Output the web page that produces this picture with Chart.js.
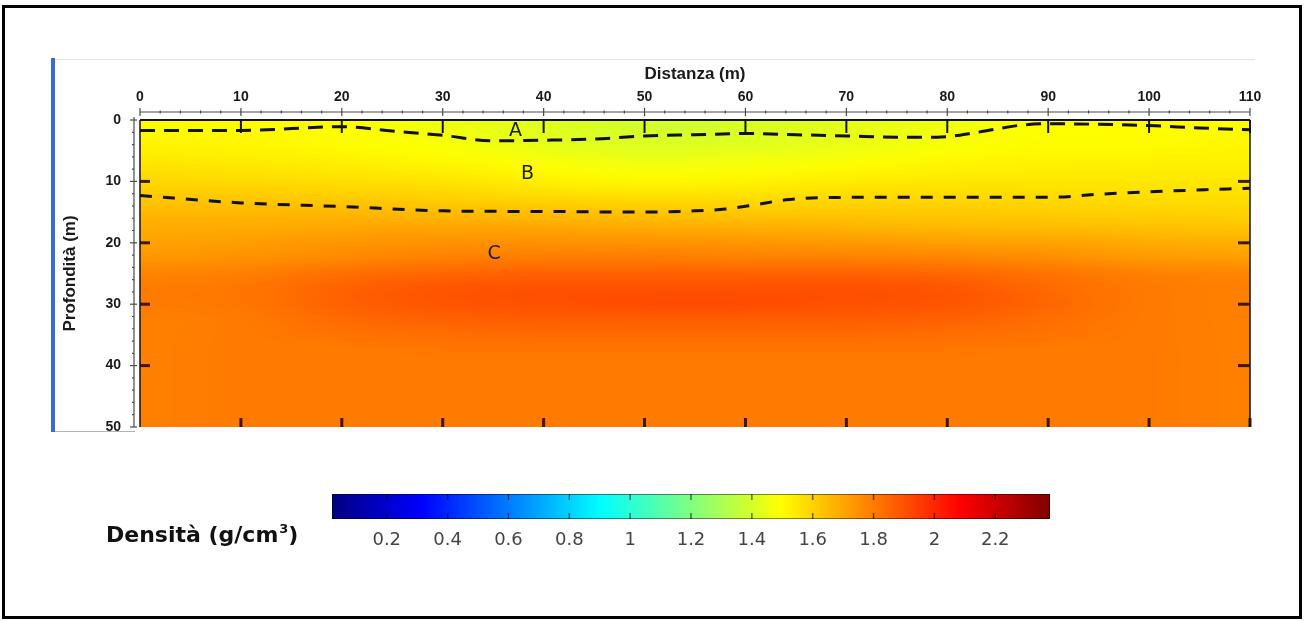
<!DOCTYPE html>
<html lang="it">
<head>
<meta charset="utf-8">
<title>Sezione di densità</title>
<script src="https://cdn.jsdelivr.net/npm/chart.js@4.4.1/dist/chart.umd.min.js"></script>
<style>
  html, body { margin: 0; padding: 0; background: #fff; }
  body { width: 1304px; height: 621px; position: relative; overflow: hidden; }
  #frame { position: absolute; left: 2px; top: 5px; width: 1294px; height: 608px; border: 3px solid #000; }
  #blueRule { position: absolute; left: 51px; top: 58px; width: 4px; height: 374px; background: #3a6cce; }
  #topRule { position: absolute; left: 55px; top: 59px; width: 1200px; height: 1px; background: #e2e2e2; }
  #bottomRule { position: absolute; left: 55px; top: 431px; width: 80px; height: 1px; background: #b4b4b4; }
  #main { position: absolute; left: 0; top: 0; }
  #cb { position: absolute; left: 0; top: 470px; }
  #cbTitle { position: absolute; left: 106px; top: 522px; font: bold 22px "DejaVu Sans", sans-serif; line-height: 26px; color: #111; white-space: nowrap; }
  #cbTitle sup { font-size: 13px; position: relative; top: -9px; vertical-align: baseline; margin-left: 1px; }
</style>
</head>
<body>
<div id="frame"></div>
<div id="blueRule"></div>
<div id="topRule"></div>
<div id="bottomRule"></div>
<canvas id="main" width="1304" height="621"></canvas>
<canvas id="cb" width="1304" height="100"></canvas>
<div id="cbTitle">Densità (g/cm<sup>3</sup>)</div>
<script>
// Axis tick labels
const distanceTicks = [0, 10, 20, 30, 40, 50, 60, 70, 80, 90, 100, 110];
const depthTicks = [0, 10, 20, 30, 40, 50];
const colorbarTicks = [0.2, 0.4, 0.6, 0.8, 1, 1.2, 1.4, 1.6, 1.8, 2, 2.2];

// Density colour scale limits (g/cm3)
const densityMin = 0.02;
const densityMax = 2.38;

// Grid nodes of the density section
const distanceLevels = [0, 10, 20, 30, 40, 50, 60, 70, 80, 90, 100, 110];
const depthLevels = [0, 2.5, 5, 7.5, 10, 12.5, 15, 17.5, 20, 22.5, 25, 27.5, 30, 32.5, 35, 37.5, 40, 42.5, 45, 47.5, 50];

// Density (g/cm3), one row per depth level, one column per distance level
const densityGrid = [
  [1.50, 1.50, 1.49, 1.46, 1.42, 1.39, 1.40, 1.43, 1.46, 1.49, 1.50, 1.50],
  [1.51, 1.51, 1.50, 1.47, 1.43, 1.40, 1.41, 1.44, 1.47, 1.50, 1.50, 1.51],
  [1.53, 1.52, 1.51, 1.49, 1.45, 1.43, 1.44, 1.46, 1.49, 1.51, 1.51, 1.52],
  [1.56, 1.55, 1.54, 1.52, 1.49, 1.47, 1.48, 1.50, 1.52, 1.53, 1.53, 1.53],
  [1.59, 1.58, 1.57, 1.56, 1.53, 1.51, 1.52, 1.54, 1.55, 1.55, 1.55, 1.55],
  [1.62, 1.62, 1.61, 1.60, 1.58, 1.57, 1.57, 1.58, 1.58, 1.58, 1.57, 1.57],
  [1.66, 1.66, 1.66, 1.65, 1.64, 1.63, 1.62, 1.62, 1.62, 1.61, 1.60, 1.60],
  [1.69, 1.69, 1.70, 1.70, 1.70, 1.69, 1.68, 1.67, 1.66, 1.65, 1.64, 1.63],
  [1.71, 1.72, 1.74, 1.75, 1.75, 1.75, 1.74, 1.73, 1.72, 1.71, 1.69, 1.68],
  [1.74, 1.75, 1.77, 1.79, 1.80, 1.80, 1.79, 1.79, 1.78, 1.76, 1.73, 1.72],
  [1.78, 1.79, 1.83, 1.85, 1.86, 1.86, 1.86, 1.86, 1.85, 1.82, 1.79, 1.78],
  [1.80, 1.81, 1.86, 1.89, 1.90, 1.90, 1.90, 1.90, 1.89, 1.84, 1.80, 1.79],
  [1.80, 1.81, 1.86, 1.89, 1.90, 1.91, 1.91, 1.90, 1.89, 1.85, 1.80, 1.79],
  [1.79, 1.80, 1.84, 1.86, 1.87, 1.87, 1.87, 1.87, 1.86, 1.83, 1.80, 1.79],
  [1.79, 1.80, 1.82, 1.83, 1.84, 1.84, 1.84, 1.84, 1.83, 1.82, 1.80, 1.79],
  [1.79, 1.80, 1.80, 1.81, 1.81, 1.81, 1.81, 1.81, 1.81, 1.80, 1.80, 1.79],
  [1.79, 1.80, 1.80, 1.80, 1.80, 1.80, 1.80, 1.80, 1.80, 1.80, 1.80, 1.79],
  [1.79, 1.80, 1.80, 1.80, 1.80, 1.80, 1.80, 1.80, 1.80, 1.80, 1.80, 1.79],
  [1.79, 1.80, 1.80, 1.80, 1.80, 1.80, 1.80, 1.80, 1.80, 1.80, 1.80, 1.79],
  [1.79, 1.80, 1.80, 1.80, 1.80, 1.80, 1.80, 1.80, 1.80, 1.80, 1.80, 1.79],
  [1.79, 1.80, 1.80, 1.80, 1.80, 1.80, 1.80, 1.80, 1.80, 1.80, 1.80, 1.79]
];

// Interpreted boundaries between layers A/B and B/C (distance m, depth m)
const boundaryAB_x = [0, 10, 20, 25, 30, 35, 40, 45, 50, 55, 60, 65, 70, 75, 79, 83, 87, 90, 95, 100, 105, 110];
const boundaryAB_depth = [1.7, 1.7, 1.1, 1.8, 2.5, 3.4, 3.3, 3.1, 2.6, 2.4, 2.2, 2.4, 2.6, 2.8, 2.8, 2.0, 0.9, 0.6, 0.7, 0.9, 1.3, 1.6];
const boundaryBC_x = [0, 10, 20, 30, 40, 50, 55, 58, 61, 64, 70, 80, 90, 95, 100, 110];
const boundaryBC_depth = [12.3, 13.5, 14.1, 14.8, 14.9, 15.0, 14.8, 14.5, 13.8, 13.0, 12.6, 12.6, 12.6, 12.1, 11.7, 11.1];

// Layer names and their anchor points (distance m, depth m)
const zoneNames = ['A', 'B', 'C'];
const zoneX = [37.2, 38.4, 35.1];
const zoneDepth = [1.8, 8.8, 21.8];

// Jet colour map over the density range
function jet(v) {
  const t = Math.min(1, Math.max(0, (v - densityMin) / (densityMax - densityMin)));
  const c = k => Math.round(255 * Math.min(1, Math.max(0, k)));
  return [c(1.5 - Math.abs(4 * t - 3)), c(1.5 - Math.abs(4 * t - 2)), c(1.5 - Math.abs(4 * t - 1))];
}

const heatmapPlugin = {
  id: 'densityHeatmap',
  beforeDatasetsDraw(chart) {
    const { ctx, chartArea: a, scales: { x, y } } = chart;
    const nx = distanceLevels.length, ny = depthLevels.length;
    const off = document.createElement('canvas');
    off.width = nx; off.height = ny;
    const octx = off.getContext('2d');
    const img = octx.createImageData(nx, ny);
    for (let j = 0; j < ny; j++) {
      for (let i = 0; i < nx; i++) {
        const [r, g, b] = jet(densityGrid[j][i]);
        const k = (j * nx + i) * 4;
        img.data[k] = r; img.data[k + 1] = g; img.data[k + 2] = b; img.data[k + 3] = 255;
      }
    }
    octx.putImageData(img, 0, 0);
    const dx = distanceLevels[1] - distanceLevels[0];
    const dy = depthLevels[1] - depthLevels[0];
    const x0 = x.getPixelForValue(distanceLevels[0] - dx / 2);
    const x1 = x.getPixelForValue(distanceLevels[nx - 1] + dx / 2);
    const y0 = y.getPixelForValue(depthLevels[0] - dy / 2);
    const y1 = y.getPixelForValue(depthLevels[ny - 1] + dy / 2);
    ctx.save();
    ctx.beginPath();
    ctx.rect(a.left, a.top, a.right - a.left, a.bottom - a.top);
    ctx.clip();
    ctx.imageSmoothingEnabled = true;
    ctx.imageSmoothingQuality = 'high';
    ctx.drawImage(off, x0, y0, x1 - x0, y1 - y0);
    ctx.restore();
  }
};

function seg(ctx, xa, ya, xb, yb) {
  ctx.beginPath(); ctx.moveTo(xa, ya); ctx.lineTo(xb, yb); ctx.stroke();
}

const framePlugin = {
  id: 'sectionFrame',
  afterDatasetsDraw(chart) {
    const { ctx, chartArea: a, scales: { x, y } } = chart;
    ctx.save();
    // inner tick marks along the bottom edge
    ctx.strokeStyle = 'rgba(40,10,0,0.9)';
    ctx.lineWidth = 3;
    distanceTicks.forEach(v => {
      if (v === distanceTicks[0]) return;
      const px = x.getPixelForValue(v);
      seg(ctx, px, a.bottom, px, a.bottom - 9);
    });
    // inner tick marks along the left and right edges
    depthTicks.forEach(v => {
      if (v === depthTicks[0] || v === depthTicks[depthTicks.length - 1]) return;
      const py = y.getPixelForValue(v);
      seg(ctx, a.left, py, a.left + 10, py);
      seg(ctx, a.right - 12, py, a.right, py);
    });
    // inner tick marks along the top edge
    ctx.strokeStyle = '#151515';
    ctx.lineWidth = 2;
    distanceTicks.forEach(v => {
      if (v === distanceTicks[0]) return;
      const px = x.getPixelForValue(v);
      seg(ctx, px, a.top, px, a.top + 13);
    });
    // section outline
    ctx.strokeStyle = '#111';
    ctx.lineWidth = 2;
    seg(ctx, a.left, a.top, a.right, a.top);
    ctx.lineWidth = 1.5;
    seg(ctx, a.left, a.top, a.left, a.bottom);
    seg(ctx, a.right, a.top, a.right, a.bottom);
    // layer names
    ctx.fillStyle = '#1c1c1c';
    ctx.font = '19px "DejaVu Sans", sans-serif';
    ctx.textAlign = 'center';
    ctx.textBaseline = 'middle';
    zoneNames.forEach((n, i) => {
      ctx.fillText(n, x.getPixelForValue(zoneX[i]), y.getPixelForValue(zoneDepth[i]));
    });
    ctx.restore();
  },
  afterDraw(chart) {
    const { ctx, chartArea: a, scales: { x, y } } = chart;
    ctx.save();
    ctx.strokeStyle = '#4a4a4a';
    ctx.lineWidth = 1.2;
    // distance ruler above the section
    const ry = a.top - 8;
    seg(ctx, a.left, ry, a.right, ry);
    for (let v = 0; v <= 110; v += 2) {
      const px = x.getPixelForValue(v);
      if (v % 10 === 0) seg(ctx, px, ry - 4, px, ry + 4);
      else seg(ctx, px, ry - 1.5, px, ry + 1.5);
    }
    // depth ruler left of the section
    const rx = a.left - 6;
    seg(ctx, rx, a.top - 3, rx, a.bottom);
    for (let v = 0; v <= 50; v += 2) {
      const py = y.getPixelForValue(v);
      if (v % 10 === 0) seg(ctx, rx - 4, py, rx + 3, py);
      else seg(ctx, rx - 2, py, rx, py);
    }
    ctx.restore();
  }
};

const tickFont = { family: 'Liberation Sans', weight: 'bold', size: 14 };
const titleFont = { family: 'Liberation Sans', weight: 'bold', size: 17 };

new Chart(document.getElementById('main'), {
  type: 'line',
  data: {
    datasets: [
      {
        label: 'A/B',
        data: boundaryAB_x.map((v, i) => ({ x: v, y: boundaryAB_depth[i] })),
        borderColor: '#111',
        borderWidth: 3,
        borderDash: [15, 9],
        pointRadius: 0,
        cubicInterpolationMode: 'monotone',
        fill: false
      },
      {
        label: 'B/C',
        data: boundaryBC_x.map((v, i) => ({ x: v, y: boundaryBC_depth[i] })),
        borderColor: '#111',
        borderWidth: 3,
        borderDash: [12, 11],
        pointRadius: 0,
        cubicInterpolationMode: 'monotone',
        fill: false
      }
    ]
  },
  options: {
    responsive: false,
    animation: false,
    devicePixelRatio: 1,
    layout: { padding: { left: 0, top: 0, right: 54, bottom: 194 } },
    plugins: { legend: { display: false }, tooltip: { enabled: false } },
    scales: {
      x: {
        type: 'linear',
        position: 'top',
        min: 0,
        max: 110,
        afterBuildTicks: s => { s.ticks = distanceTicks.map(v => ({ value: v })); },
        afterFit: s => { s.height = 120; },
        grid: { display: false },
        border: { display: false },
        ticks: { padding: 6, font: tickFont, color: '#1a1a1a', maxRotation: 0, autoSkip: false, callback: v => String(v) },
        title: { display: true, text: 'Distanza (m)', font: titleFont, color: '#1a1a1a', padding: { top: 64, bottom: 0 } }
      },
      y: {
        type: 'linear',
        position: 'left',
        reverse: true,
        min: 0,
        max: 50,
        afterBuildTicks: s => { s.ticks = depthTicks.map(v => ({ value: v })); },
        afterFit: s => { s.width = 140; },
        grid: { display: false },
        border: { display: false },
        ticks: { padding: 11, font: tickFont, color: '#1a1a1a', autoSkip: false, callback: v => String(v) },
        title: { display: true, text: 'Profondità (m)', font: titleFont, color: '#1a1a1a', padding: { top: 60, bottom: 0 } }
      }
    }
  },
  plugins: [heatmapPlugin, framePlugin]
});

const colorbarPlugin = {
  id: 'colorbar',
  beforeDatasetsDraw(chart) {
    const { ctx, chartArea: a, scales: { x } } = chart;
    const xa = x.getPixelForValue(densityMin), xb = x.getPixelForValue(densityMax);
    const grad = ctx.createLinearGradient(xa, 0, xb, 0);
    for (let i = 0; i <= 64; i++) {
      const [r, g, b] = jet(densityMin + (densityMax - densityMin) * i / 64);
      grad.addColorStop(i / 64, `rgb(${r},${g},${b})`);
    }
    ctx.save();
    ctx.fillStyle = grad;
    ctx.fillRect(xa, a.top, xb - xa, a.bottom - a.top);
    ctx.strokeStyle = 'rgba(0,0,0,0.55)';
    ctx.lineWidth = 1.5;
    colorbarTicks.forEach(v => {
      const px = x.getPixelForValue(v);
      seg(ctx, px, a.top, px, a.top + 6);
      seg(ctx, px, a.bottom - 6, px, a.bottom);
    });
    ctx.strokeStyle = 'rgba(0,0,0,0.45)';
    ctx.lineWidth = 1;
    ctx.strokeRect(xa + 0.5, a.top + 0.5, xb - xa - 1, a.bottom - a.top - 1);
    ctx.restore();
  }
};

new Chart(document.getElementById('cb'), {
  type: 'scatter',
  data: { datasets: [{ data: [] }] },
  options: {
    responsive: false,
    animation: false,
    devicePixelRatio: 1,
    layout: { padding: { left: 332, right: 254, top: 24, bottom: 0 } },
    plugins: { legend: { display: false }, tooltip: { enabled: false } },
    scales: {
      x: {
        type: 'linear',
        position: 'bottom',
        min: densityMin,
        max: densityMax,
        afterBuildTicks: s => { s.ticks = colorbarTicks.map(v => ({ value: v })); },
        afterFit: s => { s.height = 51; },
        grid: { display: false },
        border: { display: false },
        ticks: { padding: 3, font: { family: 'DejaVu Sans', size: 18 }, color: '#444', maxRotation: 0, autoSkip: false, callback: v => String(v) }
      },
      y: { display: false, min: 0, max: 1 }
    }
  },
  plugins: [colorbarPlugin]
});
</script>
</body>
</html>
